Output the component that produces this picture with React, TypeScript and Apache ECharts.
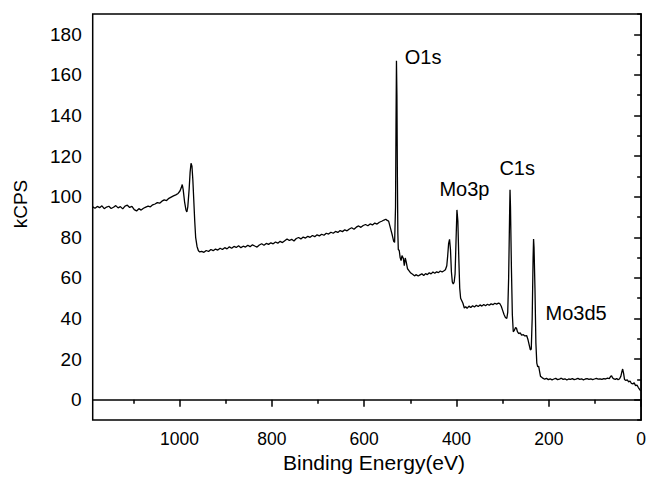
import React, { useEffect, useRef } from "react";
import * as echarts from "echarts";

// Binding energy (eV) and intensity (kCPS)
const bindingEnergy = [
  1188, 1183, 1178, 1173, 1168, 1163, 1158, 1153, 1148, 1143, 1138, 1133, 1128, 1123, 1118, 1113, 1108, 1103, 1098, 1093,
  1088, 1083, 1078, 1073, 1068, 1063, 1058, 1053, 1048, 1043, 1038, 1033, 1028, 1023, 1018, 1013, 1008, 1003, 999, 996,
  994, 992, 989, 986, 984, 982, 979, 977, 975, 973, 971, 969, 967, 965, 962, 959, 956, 952, 947, 942,
  937, 932, 927, 922, 917, 912, 907, 902, 897, 892, 887, 882, 877, 872, 867, 862, 857, 852, 847, 842,
  837, 832, 827, 822, 817, 812, 807, 802, 797, 792, 787, 782, 777, 772, 767, 762, 757, 752, 747, 742,
  737, 732, 727, 722, 717, 712, 707, 702, 697, 692, 687, 682, 677, 672, 667, 662, 657, 652, 647, 642,
  637, 632, 627, 622, 617, 612, 607, 602, 597, 592, 587, 582, 577, 572, 567, 562, 557, 553, 550, 547,
  543, 539, 536, 534, 532, 531, 530, 529, 528, 527, 526, 524, 522, 520, 518, 515, 513, 511, 509, 506,
  503, 499, 495, 491, 487, 483, 479, 475, 471, 467, 463, 459, 455, 451, 447, 443, 439, 435, 431, 427,
  424, 421, 419, 417, 415, 413, 411, 409, 407, 405, 403, 401, 399, 397, 395, 393, 391, 389, 386, 383,
  380, 377, 373, 369, 365, 361, 357, 353, 349, 345, 341, 337, 333, 329, 325, 321, 317, 313, 309, 306,
  303, 300, 297, 294, 291, 289, 287, 285, 284, 283, 281, 279, 277, 275, 272, 270, 268, 265, 262, 259,
  255, 252, 248, 245, 242, 240, 238, 236, 234, 233, 232, 230, 228, 226, 224, 222, 220, 218, 216, 213,
  209, 205, 201, 197, 193, 189, 185, 181, 177, 173, 169, 165, 161, 157, 153, 149, 145, 141, 137, 133,
  129, 125, 121, 117, 113, 109, 105, 101, 97, 93, 89, 85, 81, 77, 73, 69, 66, 64, 62, 59,
  56, 53, 50, 47, 44, 42, 40, 38, 36, 33, 30, 27, 24, 21, 18, 15, 12, 9, 6, 3,
  1,
];
const kcps = [
  95.0, 94.3, 95.2, 94.6, 95.5, 94.1, 94.9, 95.3, 94.2, 94.8, 95.6, 94.5, 95.1, 94.0, 95.4, 95.8, 94.7, 95.2, 93.6, 93.0,
  94.1, 93.4, 94.3, 94.9, 95.4, 95.0, 96.0, 96.4, 97.1, 96.8, 97.8, 98.4, 98.1, 99.2, 99.8, 100.4, 100.9, 101.6, 102.8, 104.5,
  106.0, 103.5, 97.5, 93.5, 92.5, 95.0, 104.0, 112.0, 116.5, 115.0, 108.0, 98.0, 88.0, 80.0, 75.5, 73.4, 72.8, 73.1, 72.6, 73.5,
  73.0, 74.0, 73.4, 74.2, 73.7, 74.6, 74.0, 74.9, 74.3, 75.3, 74.6, 75.5, 75.0, 75.8, 74.9, 75.6, 75.2, 76.1, 75.4, 76.3,
  75.7, 75.2, 76.2, 76.8, 76.1, 77.0, 76.5, 77.3, 76.8, 77.7, 77.1, 78.0, 77.4, 78.3, 79.2, 78.4, 79.0, 78.2, 79.4, 79.9,
  79.2, 80.1, 79.6, 80.5, 80.0, 80.9, 80.3, 81.2, 80.7, 81.5, 81.0, 82.0, 81.6, 82.5, 82.0, 82.9, 82.4, 83.3, 82.8, 83.7,
  83.2, 84.1, 84.7, 84.0, 85.0, 85.6, 84.9, 85.8, 86.3, 85.7, 86.6, 86.1, 87.0, 86.5, 87.4, 87.9, 88.5, 88.9, 88.3, 88.0,
  84.5, 81.0, 78.0, 77.5, 95.0, 135.0, 167.0, 150.0, 110.0, 82.0, 74.0, 73.5, 70.0, 68.5, 71.0, 69.5, 66.0, 69.8, 68.0, 64.5,
  63.6, 62.4, 61.8, 61.0, 61.6, 60.9, 61.5, 62.0, 61.2, 62.1, 61.6, 62.5, 62.0, 62.9, 62.3, 63.0, 62.6, 63.4, 62.9, 63.5,
  64.0, 66.0, 71.0, 77.0, 79.0, 74.0, 63.0, 58.0, 57.0, 58.0, 62.0, 78.0, 93.5, 88.0, 70.0, 55.0, 50.0, 49.0, 47.5, 45.2,
  45.8, 45.0, 46.1, 45.4, 46.3, 45.7, 46.5, 45.9, 46.7, 46.1, 46.9, 46.3, 47.0, 46.5, 47.2, 46.8, 47.5, 47.1, 47.6, 47.3,
  46.0, 44.0, 42.0, 40.5, 40.0, 43.0, 60.0, 90.0, 103.4, 95.0, 65.0, 42.0, 33.5, 34.0, 35.6, 35.2, 33.5, 32.5, 33.0, 31.8,
  32.0, 31.4, 31.6, 29.5, 26.5, 24.5, 25.0, 40.0, 70.0, 79.2, 75.0, 55.0, 28.0, 18.0, 16.2, 16.5, 14.0, 11.5, 11.2, 10.6,
  10.1, 10.5, 9.9, 10.3, 9.8, 10.2, 10.5, 9.9, 10.1, 10.6, 10.0, 10.3, 9.7, 10.2, 10.0, 10.4, 9.9, 10.1, 10.5, 10.0,
  10.3, 9.8, 10.2, 10.4, 10.0, 10.3, 9.9, 10.2, 10.5, 10.1, 10.3, 10.0, 10.4, 10.2, 10.6, 10.4, 11.5, 11.8, 10.8, 10.2,
  10.0, 10.4, 9.9, 10.2, 11.5, 13.5, 15.1, 13.0, 10.0, 9.5, 9.8, 8.8, 9.2, 8.0, 7.8, 8.3, 6.9, 7.2, 6.0, 5.0,
  4.4,
];

// Tick values
const xMajorTicks = [0, 200, 400, 600, 800, 1000];
const xMinorTicks = [100, 300, 500, 700, 900, 1100];
const yMajorTicks = [0, 20, 40, 60, 80, 100, 120, 140, 160, 180];
const yMinorTicks = [-10, 10, 30, 50, 70, 90, 110, 130, 150, 170, 190];

// Peak annotations: name, energy of text's left edge, kCPS of text's middle
const peakNames = ["O1s", "Mo3p", "C1s", "Mo3d5"];
const peakLabelEnergy = [512, 437, 307, 207];
const peakLabelValue = [169, 103.6, 113.9, 42.9];

const FONT = "'Liberation Sans', Arial, sans-serif";

export default function App() {
  const ref = useRef<HTMLDivElement>(null);

  useEffect(() => {
    if (!ref.current) return;
    const chart = echarts.init(ref.current, undefined, { renderer: "svg" });
    const xBase = { type: "value", min: 0, max: 1188, inverse: true, gridIndex: 0, splitLine: { show: false } };
    const yBase = { type: "value", min: -10, max: 190, gridIndex: 0, splitLine: { show: false } };
    chart.setOption({
      animation: false,
      backgroundColor: "#ffffff",
      textStyle: { fontFamily: FONT },
      grid: {
        left: 92.7,
        right: 5.7,
        top: 14,
        bottom: 61,
        show: true,
        borderColor: "#000",
        borderWidth: 1.5,
        backgroundColor: "transparent",
      },
      xAxis: [
        {
          ...xBase,
          position: "bottom",
          axisLine: { show: true, lineStyle: { color: "#000", width: 1.5 } },
          axisTick: { show: true, inside: false, length: 7, customValues: xMajorTicks, lineStyle: { color: "#000", width: 1.5 } },
          axisLabel: {
            customValues: xMajorTicks,
            formatter: (v: number) => String(v),
            color: "#000",
            fontSize: 17.5,
            margin: 10,
            fontFamily: FONT,
          },
        },
        {
          ...xBase,
          position: "bottom",
          axisLine: { show: false },
          axisTick: { show: true, inside: false, length: 4, customValues: xMinorTicks, lineStyle: { color: "#000", width: 1.5 } },
          axisLabel: { show: false },
        },
      ],
      yAxis: [
        {
          ...yBase,
          position: "left",
          axisLine: { show: true, lineStyle: { color: "#000", width: 1.5 } },
          axisTick: { show: true, inside: false, length: 7, customValues: yMajorTicks, lineStyle: { color: "#000", width: 1.5 } },
          axisLabel: {
            customValues: yMajorTicks,
            formatter: (v: number) => String(v),
            color: "#000",
            fontSize: 19,
            margin: 11,
            fontFamily: FONT,
          },
        },
        {
          ...yBase,
          position: "left",
          axisLine: { show: false },
          axisTick: { show: true, inside: false, length: 4, customValues: yMinorTicks, lineStyle: { color: "#000", width: 1.5 } },
          axisLabel: { show: false },
        },
      ],
      graphic: [
        {
          type: "text",
          x: 374,
          y: 462,
          style: {
            text: "Binding Energy(eV)",
            fill: "#000",
            font: `21px ${FONT}`,
            textAlign: "center",
            textVerticalAlign: "middle",
          },
        },
        {
          type: "text",
          x: 20,
          y: 204,
          rotation: Math.PI / 2,
          style: {
            text: "kCPS",
            fill: "#000",
            font: `19px ${FONT}`,
            textAlign: "center",
            textVerticalAlign: "middle",
          },
        },
      ],
      series: [
        {
          type: "line",
          xAxisIndex: 0,
          yAxisIndex: 0,
          data: bindingEnergy.map((e, i) => [e, kcps[i]]),
          showSymbol: false,
          symbol: "none",
          lineStyle: { color: "#000", width: 1.3 },
          markPoint: {
            symbol: "circle",
            symbolSize: 0,
            silent: true,
            data: peakNames.map((n, i) => ({
              name: n,
              coord: [peakLabelEnergy[i], peakLabelValue[i]],
              label: {
                show: true,
                formatter: n,
                position: "right",
                distance: 0,
                color: "#000",
                fontSize: 20,
                fontFamily: FONT,
              },
            })),
          },
        },
      ],
    });
    return () => chart.dispose();
  }, []);

  return (
    <div
      ref={ref}
      style={{ position: "absolute", left: 0, top: 0, width: 649, height: 481, background: "#fff" }}
    />
  );
}
